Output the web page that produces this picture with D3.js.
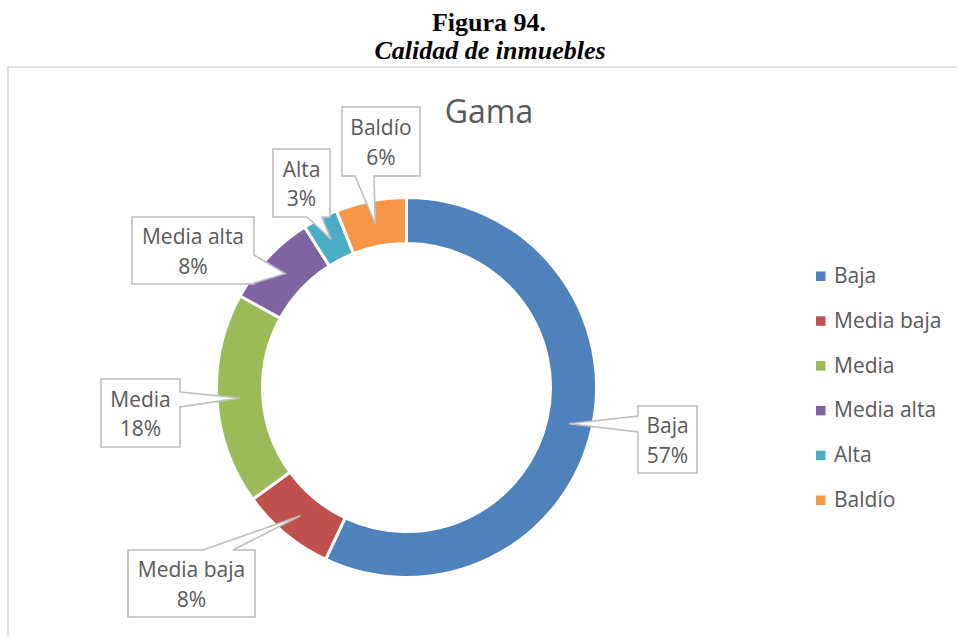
<!DOCTYPE html>
<html lang="es">
<head>
<meta charset="utf-8">
<script src="https://cdn.jsdelivr.net/npm/d3@7"></script>
<style>
  html, body { margin: 0; padding: 0; background: #fff; }
  svg { display: block; }
</style>
</head>
<body>
<svg id="chart" width="957" height="637"></svg>
<script>
// Quality of properties ("Gama") — share of each range, in percent
const categories = ["Baja", "Media baja", "Media", "Media alta", "Alta", "Baldío"];
const values = [57, 8, 18, 8, 3, 6];
const colors = ["#4F81BD", "#C0504D", "#9BBB59", "#8064A2", "#4BACC6", "#F79646"];

// Placement of each callout box and the side its pointer leaves from
const calloutLayout = {
  "Baja":       { x: 638, y: 406, w: 59,  h: 67, side: "left",   a: 416, b: 432 },
  "Media baja": { x: 128, y: 550, w: 127, h: 67, side: "top",    a: 203, b: 233 },
  "Media":      { x: 101, y: 379, w: 79,  h: 68, side: "right",  a: 392, b: 407 },
  "Media alta": { x: 132, y: 217, w: 122, h: 67, side: "right",  a: 255, b: 283 },
  "Alta":       { x: 273, y: 149, w: 57,  h: 68, side: "bottom", a: 307, b: 322 },
  "Baldío":     { x: 342, y: 107, w: 78,  h: 69, side: "bottom", a: 355, b: 374 }
};

const svg = d3.select("#chart");
const FONT = "'Open Sans', 'Noto Sans', sans-serif";
const TEXT = "#595959";

// Caption above the chart
svg.append("text")
  .attr("x", 489).attr("y", 31)
  .attr("text-anchor", "middle")
  .style("font-family", "'Liberation Serif', 'Times New Roman', serif")
  .style("font-weight", "bold")
  .style("font-size", "26px")
  .attr("fill", "#000")
  .text("Figura 94.");
svg.append("text")
  .attr("x", 490).attr("y", 59)
  .attr("text-anchor", "middle")
  .style("font-family", "'Liberation Serif', 'Times New Roman', serif")
  .style("font-weight", "bold")
  .style("font-style", "italic")
  .style("font-size", "26px")
  .attr("fill", "#000")
  .text("Calidad de inmuebles");

// Chart area frame
svg.append("rect")
  .attr("x", 8).attr("y", 67)
  .attr("width", 1200).attr("height", 1000)
  .attr("fill", "#fff")
  .attr("stroke", "#D9D9D9")
  .attr("stroke-width", 1.5);

// Chart title
svg.append("text")
  .attr("x", 489).attr("y", 123)
  .attr("text-anchor", "middle")
  .style("font-family", FONT)
  .style("font-size", "32px")
  .attr("fill", TEXT)
  .text("Gama");

// Doughnut
const cx = 406.5, cy = 387.5;
const data = categories.map((c, i) => ({ category: c, value: values[i], color: colors[i] }));
const pie = d3.pie().value(d => d.value).sort(null);
const arcs = pie(data);
const arc = d3.arc().innerRadius(144).outerRadius(190);
const midArc = d3.arc().innerRadius(145).outerRadius(188);

const g = svg.append("g").attr("transform", `translate(${cx},${cy})`);
g.selectAll("path.slice")
  .data(arcs)
  .join("path")
  .attr("class", "slice")
  .attr("d", arc)
  .attr("fill", d => d.data.color)
  .attr("stroke", "#fff")
  .attr("stroke-width", 3);

// Callout boxes with a pointer into each slice
function calloutPath(L, tip) {
  const { x, y, w, h, side, a, b } = L;
  const [tx, ty] = tip;
  let pts;
  if (side === "left") {
    pts = [[x, y], [x + w, y], [x + w, y + h], [x, y + h], [x, b], [tx, ty], [x, a]];
  } else if (side === "right") {
    pts = [[x, y], [x + w, y], [x + w, a], [tx, ty], [x + w, b], [x + w, y + h], [x, y + h]];
  } else if (side === "top") {
    pts = [[x, y], [a, y], [tx, ty], [b, y], [x + w, y], [x + w, y + h], [x, y + h]];
  } else {
    pts = [[x, y], [x + w, y], [x + w, y + h], [b, y + h], [tx, ty], [a, y + h], [x, y + h]];
  }
  return "M" + pts.map(p => p.join(",")).join("L") + "Z";
}

const callouts = svg.append("g");
arcs.forEach(d => {
  const L = calloutLayout[d.data.category];
  const c = midArc.centroid(d);
  const tip = [cx + c[0], cy + c[1]];
  callouts.append("path")
    .attr("d", calloutPath(L, tip))
    .attr("fill", "#fff")
    .attr("stroke", "#BFBFBF")
    .attr("stroke-width", 1.6)
    .attr("stroke-linejoin", "miter");
  const mx = L.x + L.w / 2, my = L.y + L.h / 2;
  const t = callouts.append("text")
    .attr("text-anchor", "middle")
    .style("font-family", FONT)
    .style("font-size", "21px")
    .attr("fill", TEXT);
  t.append("tspan").attr("x", mx).attr("y", my - 6.5).text(d.data.category);
  t.append("tspan").attr("x", mx).attr("y", my + 23).text(d.data.value + "%");
});

// Legend
const legend = svg.append("g");
const legendY = d3.scalePoint().domain(categories).range([283, 507]);
categories.forEach((c, i) => {
  const y = legendY(c);
  legend.append("rect")
    .attr("x", 816).attr("y", y - 11.5)
    .attr("width", 9.5).attr("height", 9.5)
    .attr("fill", colors[i]);
  legend.append("text")
    .attr("x", 834).attr("y", y)
    .style("font-family", FONT)
    .style("font-size", "21px")
    .attr("fill", TEXT)
    .text(c);
});
</script>
</body>
</html>
